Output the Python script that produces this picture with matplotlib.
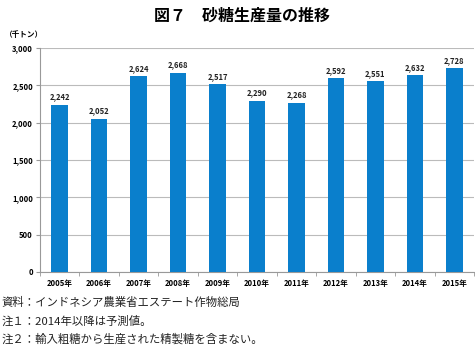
import matplotlib.pyplot as plt
import numpy as np

plt.rcParams['font.family'] = ['Noto Sans CJK JP', 'DejaVu Sans']

years = ['2005年', '2006年', '2007年', '2008年', '2009年', '2010年',
         '2011年', '2012年', '2013年', '2014年', '2015年']
production = [2242, 2052, 2624, 2668, 2517, 2290, 2268, 2592, 2551, 2632, 2728]
yticks = [0, 500, 1000, 1500, 2000, 2500, 3000]
notes = ['資料：インドネシア農業省エステート作物総局',
         '注１：2014年以降は予測値。',
         '注２：輸入粗糖から生産された精製糖を含まない。']

fig = plt.figure(figsize=(4.75, 3.5), dpi=100)
ax = fig.add_axes([0.084, 0.223, 0.914, 0.64])

x = np.arange(len(years))
bars = ax.bar(x, production, width=0.42, color='#0a7fcc', zorder=3)
for xi, v in zip(x, production):
    ax.text(xi, v + 45, f'{v:,}', ha='center', va='bottom',
            fontsize=5.5, fontweight='bold', color='#222222')

ax.set_xlim(-0.5, len(years) - 0.5)
ax.set_ylim(0, 3000)
ax.set_yticks(yticks)
ax.set_yticklabels([f'{t:,}' for t in yticks], fontsize=5.5, fontweight='bold')
ax.set_xticks(x)
ax.set_xticklabels(years, fontsize=5.5, fontweight='bold')
ax.tick_params(axis='x', length=0, pad=5)
ax.set_xticks(np.arange(-0.5, len(years)), minor=True)
ax.tick_params(axis='x', which='minor', length=3, color='#999999')
ax.tick_params(axis='y', length=3, color='#999999', pad=2)
ax.yaxis.grid(True, color='#bbbbbb', linewidth=0.8, zorder=0)
for s in ['top', 'right']:
    ax.spines[s].set_visible(False)
for s in ['left', 'bottom']:
    ax.spines[s].set_color('#999999')

fig.text(0.51, 0.955, '図７　砂糖生産量の推移', ha='center', va='center',
         fontsize=11.5, fontweight='bold')
fig.text(0.01, 0.9, '（千トン）', ha='left', va='center', fontsize=5.5,
         fontweight='bold')
for i, n in enumerate(notes):
    fig.text(0.004, 0.135 - i * 0.052, n, ha='left', va='center', fontsize=8.2,
             color='#222222')

fig.savefig('out.png', dpi=100)
